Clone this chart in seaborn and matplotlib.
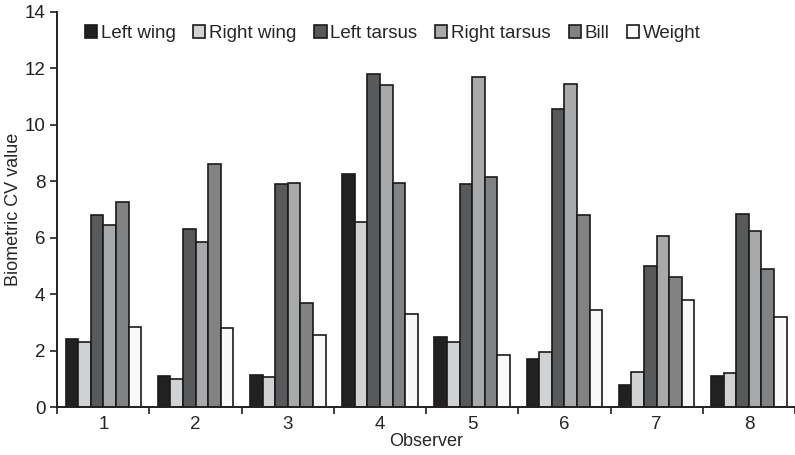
import matplotlib
matplotlib.use("Agg")
import matplotlib.pyplot as plt
import seaborn as sns
import pandas as pd
from matplotlib.ticker import FixedLocator

observers = ["1", "2", "3", "4", "5", "6", "7", "8"]
traits = ["Left wing", "Right wing", "Left tarsus", "Right tarsus", "Bill", "Weight"]

left_wing = [2.40, 1.10, 1.15, 8.25, 2.50, 1.70, 0.80, 1.10]
right_wing = [2.30, 1.00, 1.08, 6.55, 2.30, 1.95, 1.25, 1.20]
left_tarsus = [6.80, 6.30, 7.90, 11.80, 7.90, 10.55, 5.00, 6.85]
right_tarsus = [6.45, 5.85, 7.95, 11.40, 11.70, 11.45, 6.05, 6.25]
bill = [7.25, 8.60, 3.70, 7.95, 8.15, 6.80, 4.60, 4.90]
weight = [2.85, 2.80, 2.55, 3.30, 1.85, 3.45, 3.80, 3.20]

colors = ["#231f20", "#d1d2d4", "#58595b", "#a7a9ac", "#808285", "#f9f9f9"]

rows = []
for trait, vals in zip(traits, [left_wing, right_wing, left_tarsus, right_tarsus, bill, weight]):
    for obs, v in zip(observers, vals):
        rows.append({"Observer": obs, "Trait": trait, "CV": v})
df = pd.DataFrame(rows)

sns.set_style("ticks")
plt.rcParams["font.family"] = ["Liberation Sans", "DejaVu Sans"]

fig = plt.figure(figsize=(7.95, 4.55), dpi=100)
ax = fig.add_axes([0.072, 0.105, 0.928, 0.869])

sns.barplot(data=df, x="Observer", y="CV", hue="Trait", order=observers,
            hue_order=traits, palette=colors, width=0.82,
            edgecolor="#1a1a1a", linewidth=1.2, ax=ax)

ax.set_ylim(0, 14)
ax.set_xlim(-0.5, 7.5)
ax.set_yticks(range(0, 15, 2))
ax.tick_params(axis="y", direction="out", length=5, width=1.2, labelsize=13.5, colors="#231f20")
ax.tick_params(axis="x", which="major", length=0, labelsize=13.5, pad=6)
ax.xaxis.set_minor_locator(FixedLocator([i + 0.5 for i in range(-1, 8)]))
ax.tick_params(axis="x", which="minor", direction="out", length=5, width=1.2, color="#231f20")
for s in ["top", "right"]:
    ax.spines[s].set_visible(False)
for s in ["left", "bottom"]:
    ax.spines[s].set_linewidth(1.4)
    ax.spines[s].set_color("#231f20")

ax.set_xlabel("Observer", fontsize=13, labelpad=0)
ax.set_ylabel("Biometric CV value", fontsize=13, labelpad=2)

ax.legend(loc="upper left", bbox_to_anchor=(0.027, 0.985), ncol=6, frameon=False,
          fontsize=13.5, handlelength=0.65, handleheight=0.65, handletextpad=0.2,
          columnspacing=0.95, borderaxespad=0)

fig.savefig("out.png", dpi=100)
